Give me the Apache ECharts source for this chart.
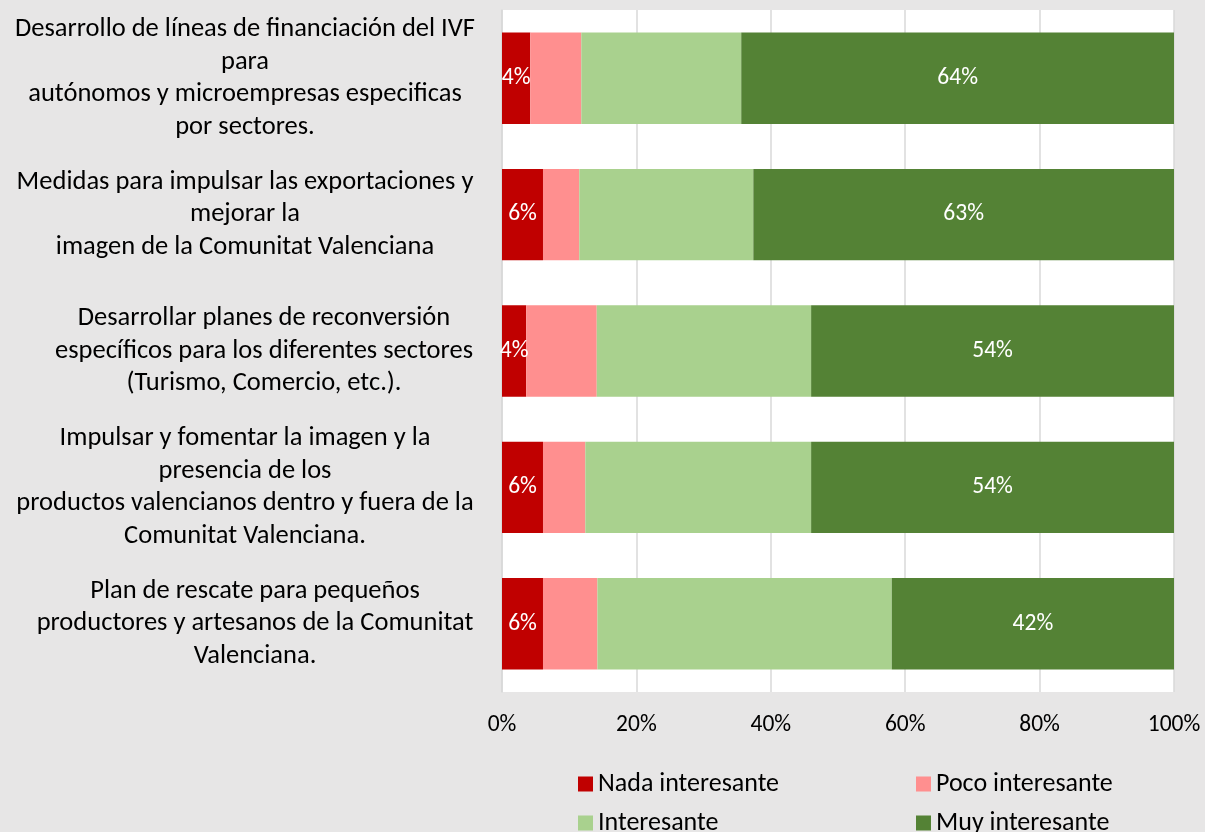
<!DOCTYPE html>
<html>
<head>
<meta charset="utf-8">
<script src="https://cdn.jsdelivr.net/npm/echarts@6/dist/echarts.min.js"></script>
<style>
  html, body { margin: 0; padding: 0; background: #e7e6e6; }
  #chart { width: 1205px; height: 832px; }
</style>
</head>
<body>
<div id="chart"></div>
<script>
const categories = [
  'Desarrollo de líneas de financiación del IVF\npara\nautónomos y microempresas especificas\npor sectores.',
  'Medidas para impulsar las exportaciones y\nmejorar la\nimagen de la Comunitat Valenciana',
  'Desarrollar planes de reconversión\nespecíficos para los diferentes sectores\n(Turismo, Comercio, etc.).',
  'Impulsar y fomentar la imagen y la\npresencia de los\nproductos valencianos dentro y fuera de la\nComunitat Valenciana.',
  'Plan de rescate para pequeños\nproductores y artesanos de la Comunitat\nValenciana.'
];
const nada = [4.2, 6.1, 3.6, 6.1, 6.1];
const poco = [7.6, 5.4, 10.5, 6.3, 8.1];
const interesante = [23.8, 25.9, 31.9, 33.6, 43.8];
const muy = [64.4, 62.6, 54.0, 54.0, 42.0];
const xTicks = [0, 20, 40, 60, 80, 100];

const FONT = 'Carlito, Lato, sans-serif';
const colors = ['#c00000', '#ff8f8f', '#a9d18e', '#548235'];

// small shifts of the label blocks as in the original (leading spaces there)
const labelShift = [0, 0, 38, 0, 20];

const myChart = echarts.init(document.getElementById('chart'));

function barLabel(show) {
  return {
    show: show,
    position: 'inside',
    color: '#fff',
    fontFamily: FONT,
    fontSize: 23.5,
    formatter: p => Math.round(p.value) + '%'
  };
}

function legendAt(left, names) {
  return {
    orient: 'vertical',
    left: left,
    top: 764,
    height: 100,
    itemWidth: 15,
    itemHeight: 15,
    itemGap: 9,
    icon: 'rect',
    textStyle: { fontFamily: FONT, fontSize: 26, lineHeight: 30, color: '#000' },
    data: names
  };
}

const option = {
  backgroundColor: '#e7e6e6',
  color: colors,
  animation: false,
  grid: {
    left: 502,
    right: 31,
    top: 10,
    bottom: 140,
    containLabel: false,
    outerBoundsMode: 'none',
    show: true,
    backgroundColor: '#ffffff',
    borderWidth: 0
  },
  legend: [
    legendAt(573, ['Nada interesante', 'Interesante']),
    legendAt(911, ['Poco interesante', 'Muy interesante'])
  ],
  xAxis: {
    type: 'value',
    min: 0,
    max: 100,
    interval: 20,
    axisLine: { show: false },
    axisTick: { show: false },
    splitLine: { lineStyle: { color: '#d9d9d9', width: 1.5 } },
    axisLabel: {
      margin: 21,
      fontFamily: FONT,
      fontSize: 23.5,
      color: '#000',
      formatter: v => (xTicks.includes(v) ? v + '%' : '')
    }
  },
  yAxis: {
    type: 'category',
    inverse: true,
    data: categories.map((c, i) => ({
      value: c,
      textStyle: { align: 'center', padding: [0, 0, 0, labelShift[i]] }
    })),
    axisLine: { show: true, lineStyle: { color: '#d9d9d9', width: 1.5 } },
    axisTick: { show: false },
    axisLabel: {
      interval: 0,
      align: 'center',
      margin: 257,
      fontFamily: FONT,
      fontSize: 26.5,
      lineHeight: 32.5,
      color: '#000'
    }
  },
  series: [
    { name: 'Nada interesante', type: 'bar', stack: 'total', barWidth: '67%', data: nada, label: barLabel(true) },
    { name: 'Poco interesante', type: 'bar', stack: 'total', data: poco, label: barLabel(false) },
    { name: 'Interesante', type: 'bar', stack: 'total', data: interesante, label: barLabel(false) },
    { name: 'Muy interesante', type: 'bar', stack: 'total', data: muy, label: barLabel(true) }
  ]
};

myChart.setOption(option);
</script>
</body>
</html>
